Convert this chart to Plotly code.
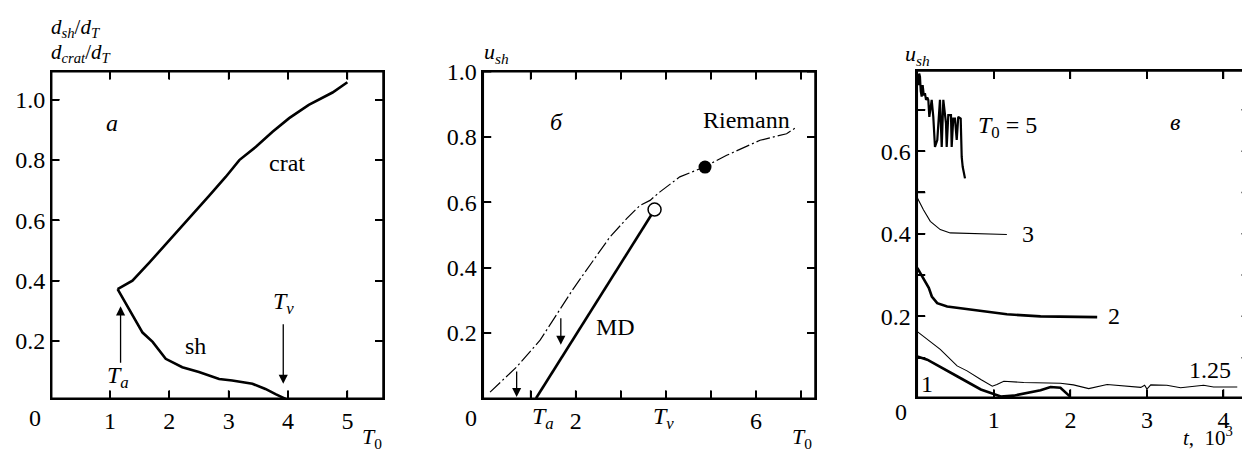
import plotly.graph_objects as go

W, H = 1250, 450
OFF = 8  # page body margin shift
FONT = "Liberation Serif, Times New Roman, serif"

# ---------------- data: panel a ----------------
crat_T0 = [1.13, 1.38, 1.66, 2.00, 2.33, 2.67, 2.95, 3.18, 3.46, 3.74, 4.02, 4.35, 4.75, 5.00]
crat_d = [0.372, 0.400, 0.459, 0.533, 0.608, 0.681, 0.744, 0.800, 0.844, 0.894, 0.939, 0.983, 1.024, 1.058]
sh_T0 = [1.13, 1.38, 1.55, 1.72, 1.94, 2.22, 2.50, 2.84, 3.06, 3.40, 3.62, 3.79, 3.96]
sh_d = [0.372, 0.286, 0.228, 0.197, 0.141, 0.113, 0.097, 0.074, 0.069, 0.058, 0.041, 0.024, 0.008]
a_xticks = [1, 2, 3, 4, 5]
a_yticks = [0.2, 0.4, 0.6, 0.8, 1.0]

# ---------------- data: panel б ----------------
riem_T0 = [0.10, 0.69, 1.21, 1.58, 1.95, 2.39, 2.76, 3.13, 3.43, 3.65, 3.87, 4.31, 4.85, 5.35, 6.09, 6.68, 6.90]
riem_u = [0.019, 0.096, 0.178, 0.259, 0.336, 0.422, 0.494, 0.550, 0.591, 0.606, 0.632, 0.678, 0.708, 0.744, 0.790, 0.810, 0.830]
md_T0 = [1.12, 3.74]
md_u = [0.0, 0.575]
open_pt = (3.75, 0.578)
filled_pt = (4.87, 0.708)
b_xticks = [1, 2, 3, 4, 5, 6, 7]
b_xlabels = ["", "2", "", "", "", "6", ""]
b_yticks = [0.2, 0.4, 0.6, 0.8, 1.0]

# ---------------- data: panel в ----------------
t5 = [0.0, 0.012, 0.025, 0.035, 0.045, 0.057, 0.07, 0.085, 0.10, 0.114, 0.13, 0.144, 0.157, 0.17, 0.188, 0.209,
      0.231, 0.261, 0.296, 0.319, 0.34, 0.375, 0.384, 0.405, 0.44, 0.449, 0.47, 0.492, 0.515, 0.535, 0.567,
      0.58, 0.593, 0.623]
u5 = [0.785, 0.760, 0.788, 0.780, 0.745, 0.732, 0.760, 0.735, 0.740, 0.724, 0.730, 0.724, 0.683, 0.700, 0.724, 0.683,
      0.610, 0.627, 0.724, 0.610, 0.724, 0.667, 0.610, 0.687, 0.687, 0.610, 0.679, 0.679, 0.627, 0.683, 0.679,
      0.586, 0.562, 0.534]
t3 = [0.0, 0.08, 0.17, 0.30, 0.43, 0.74, 1.17]
u3 = [0.487, 0.458, 0.430, 0.410, 0.402, 0.400, 0.398]
t2 = [0.0, 0.08, 0.15, 0.19, 0.26, 0.39, 0.74, 1.17, 1.61, 2.35]
u2 = [0.317, 0.293, 0.269, 0.248, 0.232, 0.224, 0.216, 0.205, 0.200, 0.198]
t125 = [0.0, 0.30, 0.52, 0.65, 0.83, 0.98, 1.04, 1.13, 1.39, 1.87, 2.04, 2.24, 2.48, 2.70, 2.92, 2.97, 3.0, 3.05,
        3.26, 3.44, 3.74, 3.87, 4.18]
u125 = [0.163, 0.120, 0.080, 0.068, 0.047, 0.031, 0.035, 0.043, 0.040, 0.038, 0.034, 0.025, 0.035, 0.031, 0.028, 0.033,
        0.024, 0.034, 0.033, 0.027, 0.033, 0.029, 0.029]
t1 = [0.0, 0.13, 0.52, 0.83, 1.09, 1.26, 1.61, 1.74, 1.87, 2.00]
u1 = [0.103, 0.095, 0.055, 0.023, 0.006, 0.008, 0.021, 0.029, 0.027, 0.005]
c_xticks = [1, 2, 3, 4]
c_yticks = [0.1, 0.2, 0.3, 0.4, 0.5, 0.6, 0.7]
c_ylabels = ["", "0.2", "", "0.4", "", "0.6", ""]

# axis ranges
a_xrange, a_yrange = [0.02, 5.6], [0.01, 1.093]
b_xrange, b_yrange = [-0.05, 7.31], [0.0, 1.0]
c_xrange, c_yrange = [0.0, 4.34], [0.004, 0.794]


def px(x):
    return (x - OFF) / W


def py(y):
    return 1 - (y - OFF) / H


def axis_style(**kw):
    d = dict(showline=True, linecolor="black", linewidth=1.5, mirror="allticks",
             ticks="inside", ticklen=8, tickwidth=1.5, tickcolor="black",
             showgrid=False, zeroline=False, tickmode="array", automargin=False,
             tickfont=dict(family=FONT, size=24, color="black"))
    d.update(kw)
    return d


fig = go.Figure()
thick = dict(color="black", width=2.6)
thin = dict(color="black", width=1.1)

# panel a
fig.add_trace(go.Scatter(x=crat_T0, y=crat_d, mode="lines", line=thick, xaxis="x", yaxis="y"))
fig.add_trace(go.Scatter(x=sh_T0, y=sh_d, mode="lines", line=thick, xaxis="x", yaxis="y"))
# panel б
fig.add_trace(go.Scatter(x=riem_T0, y=riem_u, mode="lines",
                         line=dict(color="black", width=1.2, dash="14px,3px,2px,3px"),
                         xaxis="x2", yaxis="y2"))
fig.add_trace(go.Scatter(x=md_T0, y=md_u, mode="lines", line=thick, xaxis="x2", yaxis="y2"))
fig.add_trace(go.Scatter(x=[open_pt[0]], y=[open_pt[1]], mode="markers",
                         marker=dict(size=13, color="white", line=dict(color="black", width=1.5)),
                         xaxis="x2", yaxis="y2"))
fig.add_trace(go.Scatter(x=[filled_pt[0]], y=[filled_pt[1]], mode="markers",
                         marker=dict(size=13, color="black"), xaxis="x2", yaxis="y2"))
# panel в
fig.add_trace(go.Scatter(x=t5, y=u5, mode="lines", line=dict(color="black", width=2.2), xaxis="x3", yaxis="y3"))
fig.add_trace(go.Scatter(x=t3, y=u3, mode="lines", line=thin, xaxis="x3", yaxis="y3"))
fig.add_trace(go.Scatter(x=t2, y=u2, mode="lines", line=thick, xaxis="x3", yaxis="y3"))
fig.add_trace(go.Scatter(x=t125, y=u125, mode="lines", line=thin, xaxis="x3", yaxis="y3"))
fig.add_trace(go.Scatter(x=t1, y=u1, mode="lines", line=thick, xaxis="x3", yaxis="y3"))

ydom = [py(398.3), py(71.7)]
xdom_a = [px(51.7), px(383)]
xdom_b = [px(483.3), px(815)]
xdom_c = [px(917.3), min(1.0, px(1249.5))]
ydom_c = [py(397.3), py(71)]

# inward tick marks on all four sides, drawn as thin line traces in data units
TICK = 8.0


def tick_trace(xa, ya, xdom, ydomain, xr, yr, xticks, yticks):
    w_px = (xdom[1] - xdom[0]) * W
    h_px = (ydomain[1] - ydomain[0]) * H
    dy = TICK / h_px * (yr[1] - yr[0])
    dx = TICK / w_px * (xr[1] - xr[0])
    xs, ys = [], []
    for v in xticks:
        xs += [v, v, None, v, v, None]
        ys += [yr[0], yr[0] + dy, None, yr[1] - dy, yr[1], None]
    for v in yticks:
        xs += [xr[0], xr[0] + dx, None, xr[1] - dx, xr[1], None]
        ys += [v, v, None, v, v, None]
    fig.add_trace(go.Scatter(x=xs, y=ys, mode="lines", line=dict(color="black", width=1.5),
                             hoverinfo="skip", connectgaps=False, xaxis=xa, yaxis=ya))


tick_trace("x", "y", xdom_a, ydom, a_xrange, a_yrange, a_xticks, a_yticks)
tick_trace("x2", "y2", xdom_b, ydom, b_xrange, b_yrange, b_xticks, b_yticks)
tick_trace("x3", "y3", xdom_c, ydom_c, c_xrange, c_yrange, c_xticks, c_yticks)

fig.update_layout(
    template="none",
    width=W, height=H, showlegend=False,
    margin=dict(l=0, r=0, t=0, b=0, pad=0, autoexpand=False),
    paper_bgcolor="white", plot_bgcolor="white",
    font=dict(family=FONT, size=24, color="black"),
    xaxis=axis_style(domain=xdom_a, range=a_xrange, anchor="y",
                     tickvals=a_xticks, ticktext=[str(v) for v in a_xticks]),
    yaxis=axis_style(domain=ydom, range=a_yrange, anchor="x",
                     tickvals=a_yticks, ticktext=[f"{v:.1f}" for v in a_yticks]),
    xaxis2=axis_style(domain=xdom_b, range=b_xrange, anchor="y2",
                      tickvals=b_xticks, ticktext=b_xlabels),
    yaxis2=axis_style(domain=ydom, range=b_yrange, anchor="x2",
                      tickvals=b_yticks, ticktext=[f"{v:.1f}" for v in b_yticks]),
    xaxis3=axis_style(domain=xdom_c, range=c_xrange, anchor="y3",
                      tickvals=c_xticks, ticktext=[str(v) for v in c_xticks]),
    yaxis3=axis_style(domain=ydom_c, range=c_yrange, anchor="x3",
                      tickvals=c_yticks, ticktext=c_ylabels),
)

# frames
shapes = []
LINE = dict(color="black", width=1.5)
for xa, ya in [("x", "y"), ("x2", "y2"), ("x3", "y3")]:
    shapes.append(dict(type="rect", xref=f"{xa} domain", yref=f"{ya} domain",
                       x0=0, x1=1, y0=0, y1=1, line=LINE, fillcolor="rgba(0,0,0,0)"))

ann = []


def ptext(x, y, text, size=24, xanchor="center"):
    ann.append(dict(x=px(x), y=py(y), xref="paper", yref="paper", text=text, showarrow=False,
                    xanchor=xanchor, yanchor="middle", font=dict(family=FONT, size=size, color="black")))


def dtext(ax, x, y, text, size=24):
    ann.append(dict(x=x, y=y, xref=ax, yref=ax.replace("x", "y"), text=text, showarrow=False,
                    xanchor="center", yanchor="middle", font=dict(family=FONT, size=size, color="black")))


def arrow(ax, x, y_head, length_px):
    # length_px > 0: tail below head (arrow points up); < 0: arrow points down
    ann.append(dict(x=x, y=y_head, xref=ax, yref=ax.replace("x", "y"), ax=0, ay=length_px,
                    text="", showarrow=True, arrowhead=2, arrowsize=1.4, arrowwidth=1.3,
                    arrowcolor="black"))


# panel a texts
ptext(49, 28, "<i>d</i><sub><i>sh</i></sub>/<i>d</i><sub><i>T</i></sub>", size=21, xanchor="left")
ptext(49, 53, "<i>d</i><sub><i>crat</i></sub>/<i>d</i><sub><i>T</i></sub>", size=21, xanchor="left")
ptext(35, 418, "0")
ptext(372, 438, "<i>T</i><sub>0</sub>", size=22)
dtext("x", 1.04, 0.922, "<i>a</i>")
dtext("x", 3.99, 0.79, "crat")
dtext("x", 2.45, 0.185, "sh")
dtext("x", 1.13, 0.08, "<i>T</i><sub><i>a</i></sub>")
dtext("x", 3.92, 0.325, "<i>T</i><sub><i>v</i></sub>")
arrow("x", 1.18, 0.315, 58)
arrow("x", 3.92, 0.058, -61)

# panel б texts
ptext(482, 53, "<i>u</i><sub><i>sh</i></sub>", size=22, xanchor="left")
ptext(471, 418, "0")
ptext(543, 418, "<i>T</i><sub><i>a</i></sub>")
ptext(663, 418, "<i>T</i><sub><i>v</i></sub>")
ptext(802, 438, "<i>T</i><sub>0</sub>", size=22)
dtext("x2", 1.58, 0.846, "<i>б</i>")
dtext("x2", 5.79, 0.851, "Riemann")
dtext("x2", 2.89, 0.218, "MD")
arrow("x2", 0.69, 0.004, -27)
arrow("x2", 1.67, 0.164, -28)

# panel в texts
ptext(903, 55, "<i>u</i><sub><i>sh</i></sub>", size=22, xanchor="left")
ptext(901, 412, "0")
ptext(1208, 436, "<i>t</i>,  10<sup>3</sup>", size=21)
dtext("x3", 1.18, 0.659, "<i>T</i><sub>0</sub> = 5")
dtext("x3", 3.37, 0.671, "<i>в</i>")
dtext("x3", 1.45, 0.40, "3")
dtext("x3", 2.57, 0.20, "2")
dtext("x3", 3.83, 0.071, "1.25")
dtext("x3", 0.13, 0.036, "1")

fig.update_layout(annotations=ann, shapes=shapes)
fig.write_html("out.html")
